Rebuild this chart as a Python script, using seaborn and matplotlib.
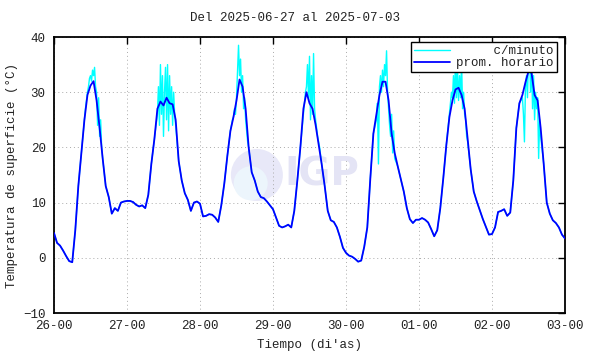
import numpy as np
import pandas as pd
import matplotlib
matplotlib.use("Agg")
import matplotlib.pyplot as plt
import seaborn as sns
from matplotlib.patches import Ellipse

# ---------------- data ----------------
title = "Del 2025-06-27 al 2025-07-03"
day_labels = ["26-00", "27-00", "28-00", "29-00", "30-00", "01-00", "02-00", "03-00"]
y_ticks = [-10, 0, 10, 20, 30, 40]

# hourly means (prom. horario), 24 values per day, hour 0..23
hourly_26 = [4.5, 2.7, 2.2, 1.3, 0.3, -0.6, -0.8, 5.0, 13.0, 19.0, 25.0, 29.5,
             31.2, 32.0, 28.5, 23.5, 18.0, 13.0, 11.0, 8.0, 9.0, 8.5, 10.0, 10.2]
hourly_27 = [10.3, 10.3, 10.1, 9.6, 9.3, 9.5, 9.0, 11.4, 17.0, 21.5, 27.0, 28.3,
             27.6, 29.0, 28.0, 27.8, 25.0, 17.5, 14.0, 11.7, 10.5, 8.5, 10.0, 10.2]
hourly_28 = [9.8, 7.5, 7.6, 7.9, 7.8, 7.3, 6.5, 9.5, 13.5, 18.5, 23.0, 25.5,
             28.5, 32.3, 31.0, 27.0, 20.0, 15.5, 14.0, 12.0, 11.0, 10.8, 10.2, 9.5]
hourly_29 = [8.8, 7.3, 5.8, 5.5, 5.7, 6.0, 5.5, 8.5, 14.0, 20.0, 27.0, 30.0,
             28.0, 27.0, 24.1, 20.5, 17.0, 13.0, 8.5, 6.8, 6.5, 5.5, 3.8, 1.8]
hourly_30 = [0.9, 0.4, 0.2, -0.2, -0.7, -0.5, 2.0, 5.5, 14.4, 22.5, 26.0, 29.5,
             31.9, 31.9, 28.5, 22.5, 19.0, 16.6, 14.3, 12.0, 9.0, 7.0, 6.3, 6.9]
hourly_01 = [6.9, 7.2, 6.9, 6.4, 5.2, 3.9, 5.0, 9.0, 14.5, 20.5, 25.5, 28.5,
             30.5, 30.8, 29.5, 27.0, 21.5, 16.0, 12.0, 10.2, 8.6, 7.0, 5.6, 4.2]
hourly_02 = [4.3, 5.5, 8.3, 8.5, 8.8, 7.6, 8.2, 14.0, 23.5, 28.0, 29.5, 31.8,
             33.8, 33.5, 29.5, 28.5, 23.5, 17.0, 10.0, 8.0, 6.8, 6.3, 5.5, 4.2]
hourly_end = [3.5]

# per-minute readings around midday (every 20 min from 10:00 to 16:00)
cyan_26 = [25, 27, 28.5, 30, 31, 32.5, 33, 32, 34, 33, 34.5, 31, 30, 24, 29, 22, 25, 20, 18]
cyan_27 = [26, 31, 24, 35, 26, 33, 22, 30, 34.5, 25, 35, 23, 33, 26, 31, 24, 30, 26, 24]
cyan_28 = [23, 24, 25, 25.5, 27, 26, 29, 34, 38.5, 33, 36, 30, 33, 27, 29, 25, 23, 21, 20]
cyan_29 = [26, 28, 30, 31, 35, 29, 36.5, 25, 33, 26, 37, 27, 25, 23.5, 22, 21, 20, 18.5, 17]
cyan_30 = [25, 28, 17, 31, 33, 30, 34, 31, 35, 33, 37.5, 30, 27, 24, 22, 26, 19, 23, 18]
cyan_01 = [26, 28, 30, 29, 33, 28, 36.5, 29, 34, 28.5, 33, 29, 35.5, 27, 30, 26, 25, 22, 21]
cyan_02 = [29, 26, 21, 31, 33, 29, 37, 38.5, 30, 36, 27, 33, 25, 30, 27, 29, 18, 25, 22]

hourly_days = [hourly_26, hourly_27, hourly_28, hourly_29, hourly_30, hourly_01, hourly_02]
cyan_days = [cyan_26, cyan_27, cyan_28, cyan_29, cyan_30, cyan_01, cyan_02]

hourly = sum(hourly_days, []) + hourly_end
df_hour = pd.DataFrame({"t": np.arange(len(hourly)) / 24.0, "v": hourly})

rows = []
for d, (hrs, dense) in enumerate(zip(hourly_days, cyan_days)):
    for h in range(24):
        if h < 10 or h > 16:
            rows.append((d + h / 24.0, hrs[h]))
        if h == 10:
            for k, v in enumerate(dense):
                rows.append((d + (10 + k / 3.0) / 24.0, v))
rows.append((7.0, hourly_end[0]))
df_min = pd.DataFrame(rows, columns=["t", "v"]).sort_values("t")

# ---------------- plot ----------------
sns.set_style("white")
plt.rcParams["font.family"] = ["Liberation Mono", "DejaVu Sans Mono"]
plt.rcParams["font.size"] = 9

W, H = 590, 354
fig = plt.figure(figsize=(W / 100, H / 100), dpi=100)
ax = fig.add_axes([54 / W, 1 - 313 / H, 511 / W, 276 / H])

# watermark
ax.add_patch(Ellipse((0.397, 0.50), 52 / 511, 52 / 276, transform=ax.transAxes,
                     facecolor="#e8e8f8", edgecolor="none", zorder=0.5))
ax.add_patch(Ellipse((0.385, 0.47), 34 / 511, 34 / 276, transform=ax.transAxes,
                     facecolor="#ecf5fc", edgecolor="none", zorder=0.6))
ax.text(0.525, 0.50, "IGP", transform=ax.transAxes, ha="center", va="center",
        fontsize=28, fontweight="bold", color="#e4e4f5", family="DejaVu Sans", zorder=0.7)

sns.lineplot(data=df_min, x="t", y="v", ax=ax, color="#00ffff", lw=1.0,
             estimator=None, sort=False, label="     c/minuto", zorder=2)
sns.lineplot(data=df_hour, x="t", y="v", ax=ax, color="#0000ff", lw=1.3,
             estimator=None, sort=False, label="prom. horario", zorder=3)

ax.set_xlim(0, 7)
ax.set_ylim(-10, 40)
ax.set_xticks(range(len(day_labels)))
ax.set_xticklabels(day_labels)
ax.set_yticks(y_ticks)
ax.set_xlabel("")
ax.set_ylabel("")
ax.tick_params(direction="in", top=True, right=True, length=5, width=1.0,
               pad=5, labelsize=9, colors="black", labelcolor="#222222")
ax.tick_params(axis="y", pad=6)
ax.grid(True, linestyle=(0, (1, 3)), color="#aaaaaa", lw=0.7)
for s in ax.spines.values():
    s.set_color("black")
    s.set_linewidth(1.3)

leg = ax.legend(loc="upper right", bbox_to_anchor=(0.984, 0.982), borderaxespad=0,
                fancybox=False, framealpha=1, edgecolor="black", handlelength=2.9,
                labelspacing=0.0, borderpad=0.25, handletextpad=0.5, fontsize=9)
leg.get_frame().set_linewidth(1.0)
for t in leg.get_texts():
    t.set_color("#222222")

fig.text(0.5, 1 - 18 / H, title, ha="center", va="center", fontsize=9, color="#222222")
fig.text(309.5 / W, 1 - 345 / H, "Tiempo (di'as)", ha="center", va="center",
         fontsize=9, color="#222222")
fig.text(12 / W, 1 - 175 / H, "Temperatura de superficie (°C)", ha="center",
         va="center", rotation=90, fontsize=9, color="#222222")

fig.savefig("out.png", dpi=100)
